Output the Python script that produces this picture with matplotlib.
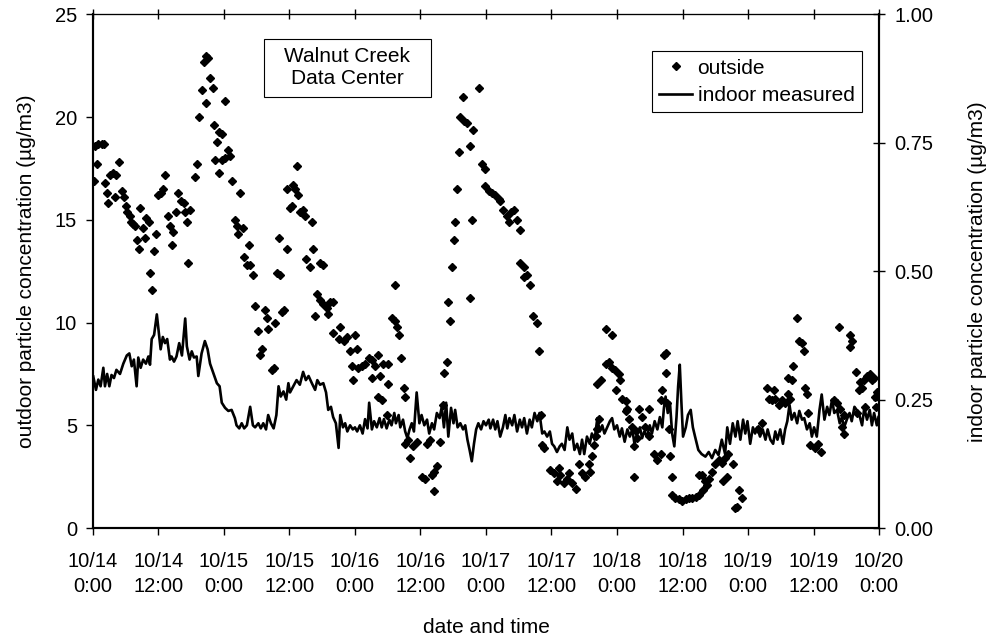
import matplotlib.pyplot as plt
from matplotlib.patches import Rectangle

plt.rcParams['font.family'] = ['Liberation Sans', 'DejaVu Sans']

# hours since 10/14 0:00
outside_hours = [
    0.2, 0.4, 0.7, 1.0, 1.6, 2.0, 2.2, 2.5, 2.8, 3.2, 3.7, 4.0, 4.2, 4.8, 5.3, 5.6, 6.0, 6.3, 6.7, 6.9,
    7.3, 7.7, 8.0, 8.5, 8.7, 9.2, 9.5, 9.8, 10.2, 10.5, 10.8, 11.1, 11.5, 12.0, 12.4, 12.9, 13.2, 13.8,
    14.1, 14.4, 14.7, 15.2, 15.6, 16.1, 16.6, 16.9, 17.3, 17.35, 17.8, 18.7, 19.0, 19.5, 19.9, 20.35,
    20.8, 20.8, 21.15, 21.45, 21.9, 22.1, 22.4, 22.7, 23.0, 23.0, 23.6, 23.6, 24.1, 24.2, 24.8, 25.1,
    25.4, 26.0, 26.3, 26.65, 27.0, 27.4, 27.7, 28.2, 28.5, 28.8, 29.3, 29.7, 30.3, 30.6, 30.9, 31.5,
    31.8, 32.1, 32.8, 33.1, 33.4, 33.7, 34.0, 34.3, 34.6, 35.0, 35.5, 35.5, 36.1,
    36.4, 36.7, 37.0, 37.3, 37.6, 37.9, 38.5, 38.85, 39.0, 39.8, 40.1, 40.4, 40.7, 41.0, 41.6, 41.6,
    42.2, 42.2, 42.8, 43.1, 43.4, 43.9, 44.0, 45.0, 45.3, 45.9, 46.5, 47.1, 47.4, 47.7, 48.0, 48.3,
    48.6, 49.2, 49.8, 50.5, 51.1, 51.1, 51.7, 52.3, 52.3, 52.6, 52.9, 53.2, 53.8, 54.1, 54.1, 54.7,
    55.4, 55.4, 55.7, 56.1, 56.5, 56.9, 57.2, 57.2, 57.8, 58.1, 58.7, 59.3, 60.2, 60.9, 61.2, 61.8,
    62.1, 62.4, 62.4, 63.0, 63.6, 64.2, 64.3, 64.8, 65.1, 65.4, 65.7, 66.05, 66.35, 66.7, 67.0, 67.3,
    67.8, 67.9, 68.5, 69.1, 69.1, 69.4, 69.7, 70.8, 71.2, 71.9, 71.9, 72.5,
    73.1, 73.7, 74.3, 74.6, 75.2, 75.9, 76.2, 76.5, 77.1, 77.7, 78.2, 78.3, 78.9, 78.9, 79.5, 80.1,
    80.7, 81.4, 81.8, 82.0, 82.3, 82.6, 83.8, 84.4, 85.0, 85.3, 85.6, 86.2, 86.9, 87.2, 87.8, 88.4,
    89.0, 89.6, 90.2, 90.8, 91.1, 91.4, 91.7, 92.1, 92.4, 92.4, 92.7, 93.0, 93.9, 93.9, 94.5, 95.1,
    95.1, 95.7, 95.9, 96.3, 96.6, 96.9, 97.6, 97.6, 97.9, 98.2, 98.8, 99.1, 99.2, 99.4, 99.7, 100.0,
    100.6, 101.2, 101.8, 101.8, 102.8, 103.4, 104.0, 104.0, 104.3, 104.6, 104.9, 104.9, 105.2, 105.5,
    105.8, 106.1, 106.1, 106.7, 107.3, 107.9, 108.6, 109.2, 109.8, 110.4, 111.0, 111.0,
    111.5, 111.8, 112.1, 112.5, 112.8, 113.4, 114.0, 114.6, 115.2, 115.5, 115.8, 116.1, 116.4, 117.3,
    117.7, 118.0, 118.3, 118.9, 121.9, 122.5, 123.5, 123.8, 124.4, 124.7, 125.0, 125.6, 126.2, 126.8,
    127.4, 127.4, 127.7, 128.0, 128.3, 129.0, 129.3, 129.9, 130.2, 130.5, 130.8, 130.9, 131.4, 132.3,
    132.9, 133.4, 135.7, 136.3, 136.6, 136.9, 137.2, 137.5, 137.6, 138.7, 138.7, 139.0, 139.7, 140.0,
    140.3, 140.6, 140.9, 141.2, 141.5, 141.8, 142.4, 142.7, 143.0, 143.3, 143.4, 143.6,
]
outside_vals = [
    16.9, 18.6, 17.7, 18.7, 18.7, 18.7, 16.8, 16.3, 15.8, 17.2, 17.3, 16.1, 17.2, 17.8, 16.4, 16.1, 15.7, 15.4, 15.2, 14.9,
    14.8, 14.7, 14.0, 13.6, 15.6, 14.6, 14.1, 15.1, 14.9, 12.4, 11.6, 13.5, 14.3, 16.2, 16.3, 16.5, 17.2, 15.2,
    14.7, 13.8, 14.4, 15.4, 16.3, 15.9, 15.8, 15.4, 14.9, 12.9, 15.5, 17.1, 17.7, 20.0, 21.3, 22.7,
    23.0, 20.7, 22.9, 21.9, 21.4, 19.6, 17.9, 18.8, 19.3, 17.3, 19.2, 17.9, 20.8, 18.0, 18.4, 18.1,
    16.9, 15.0, 14.7, 14.3, 16.3, 14.6, 13.2, 12.8, 13.8, 12.8, 12.3, 10.8, 9.6, 8.4, 8.7, 10.6,
    10.2, 9.7, 7.7, 7.8, 10.0, 12.4, 14.1, 12.3, 10.5, 10.6, 13.6, 16.5, 15.6,
    15.7, 16.7, 16.5, 17.6, 16.2, 15.4, 15.5, 15.2, 13.1, 12.7, 14.9, 13.6, 10.3, 11.4, 12.9, 11.1,
    12.8, 10.9, 10.7, 10.4, 11.0, 11.0, 9.5, 9.2, 9.8, 9.1, 9.3, 8.6, 7.9, 7.2, 9.4, 8.7,
    7.8, 7.9, 8.0, 8.3, 8.2, 7.3, 7.9, 8.4, 6.4, 7.4, 6.25, 8.0, 5.5, 8.0, 7.0, 10.2,
    11.85, 10.1, 9.8, 9.4, 8.3, 6.8, 6.4, 4.1, 4.3, 3.4, 4.0, 4.2, 2.5, 2.4, 4.1, 4.3,
    2.6, 2.75, 1.8, 3.0, 4.2, 6.0, 7.55, 8.1, 11.0, 10.1, 12.7, 14.0, 14.9, 16.5, 18.3, 20.0,
    21.0, 19.8, 19.7, 18.6, 11.2, 15.0, 19.4, 21.4, 17.7, 17.5, 16.65, 16.4,
    16.3, 16.2, 16.0, 15.9, 15.5, 15.2, 14.9, 15.4, 15.5, 15.0, 14.5, 12.9, 12.7, 12.2, 12.3, 11.85,
    10.3, 10.0, 8.6, 5.5, 4.05, 3.9, 2.8, 2.7, 2.3, 2.9, 2.6, 2.2, 2.4, 2.7, 2.2, 1.9,
    3.1, 2.7, 2.5, 3.1, 2.75, 3.5, 4.05, 4.5, 4.8, 7.0, 5.3, 7.2, 8.0, 9.7, 8.1, 7.8,
    9.4, 7.7, 6.7, 7.5, 7.2, 6.3, 6.2, 5.7, 5.8, 5.3, 4.9, 4.0, 2.5, 4.7, 4.4, 5.8,
    5.4, 4.9, 5.8, 4.5, 3.6, 3.3, 6.25, 3.6, 6.7, 8.4, 8.5, 7.55, 6.1, 4.8,
    3.5, 2.5, 1.6, 1.45, 1.4, 1.3, 1.4, 1.45, 1.45, 1.5, 1.6, 2.6,
    2.6, 1.85, 2.3, 2.1, 2.4, 2.75, 3.1, 3.3, 3.15, 2.3, 3.4, 2.5, 3.6, 3.1,
    0.96, 1.04, 1.85, 1.45, 4.8, 5.1, 6.8, 6.3, 6.25, 6.7, 6.3, 6.0, 6.25, 6.1,
    6.5, 7.3, 6.3, 7.2, 7.9, 10.2, 9.1, 9.0, 8.6, 6.8, 6.5, 5.6, 4.05, 3.9,
    4.1, 3.7, 6.25, 6.1, 9.8, 5.8, 4.9, 5.5, 4.6, 9.4, 8.8, 9.1, 7.6, 5.6,
    6.7, 7.1, 6.8, 7.2, 5.9, 7.4, 7.5, 7.2, 7.3, 6.4, 5.9, 6.6,
]

indoor_hours = [
    0.06, 0.55, 0.98, 1.4, 1.9, 2.2, 2.6, 3.0, 3.4, 3.85, 4.3, 4.95, 5.56, 6.2, 6.66, 7.1, 7.5, 8.0,
    8.3, 8.74, 9.2, 9.7, 10.15, 10.45, 10.76, 11.2, 11.7, 12.0, 12.4, 12.8, 13.2, 13.6, 14.1, 14.4,
    14.85, 15.3, 15.8, 16.3, 16.9, 17.2, 17.7, 18.1, 18.5, 19.0, 19.3, 19.9, 20.5, 21.0, 21.45, 22.1,
    22.7, 23.2, 23.6, 24.2, 24.8, 25.4, 26.0, 26.3, 26.8, 27.25, 27.7, 28.2, 28.8, 29.3, 29.7, 30.3,
    30.75, 31.2, 31.7, 32.1, 32.6, 33.1, 33.6, 34.0, 34.4, 34.9, 35.4, 35.8,
    36.1, 36.7, 37.3, 37.9, 38.5, 39.0, 39.5, 40.1, 40.7, 41.1, 41.6, 42.2, 42.7, 43.1, 43.6, 44.0,
    44.5, 45.0, 45.3, 45.8, 46.2, 46.6, 47.1, 47.6, 48.0, 48.4, 48.9, 49.4, 49.85, 50.3, 50.6, 51.1,
    51.5, 52.0, 52.5, 52.9, 53.3, 53.8, 54.3, 54.7, 55.2, 55.5, 56.0, 56.3, 56.8, 57.2, 57.6, 58.0,
    58.4, 58.8, 59.3, 59.8, 60.2, 60.7, 61.2, 61.6, 62.1, 62.5, 63.0, 63.5, 63.9, 64.3, 64.7, 65.1,
    65.6, 66.05, 66.35, 66.8, 67.3, 67.8, 68.2, 68.6, 69.0, 69.4, 69.8, 70.2, 70.6, 71.1, 71.55, 72.0,
    72.5, 72.8, 73.3, 73.7, 74.1, 74.6, 75.1, 75.55, 75.9, 76.3, 76.8, 77.2, 77.7, 78.2, 78.6, 79.0,
    79.5, 80.0, 80.4, 80.9, 81.4, 81.8, 82.3, 82.7, 83.2, 83.7, 84.1, 84.5, 85.0, 85.5, 85.9, 86.4,
    86.9, 87.3, 87.8, 88.2, 88.7, 89.2, 89.6, 90.0, 90.5, 91.0, 91.4, 91.9, 92.4, 92.85, 93.3, 93.7,
    94.2, 94.7, 95.1, 95.5, 96.0, 96.5, 96.9, 97.4, 97.9, 98.35, 98.8, 99.2, 99.7, 100.2, 100.6, 101.0,
    101.5, 102.0, 102.4, 102.9, 103.4, 103.85, 104.3, 104.6, 104.9, 105.3, 105.7, 106.1, 106.5, 106.9,
    107.2, 107.5, 107.8, 108.1, 108.6, 109.0, 109.5, 109.9, 110.3, 110.9, 111.5, 112.2, 112.8, 113.4,
    114.0, 114.6, 115.2, 115.8, 116.2, 116.7, 117.2, 117.7, 118.1, 118.6, 119.1, 119.5, 119.9, 120.4,
    120.9, 121.3, 121.7, 122.2, 122.7, 123.2, 123.6, 124.1, 124.6, 125.0, 125.4, 125.9, 126.4, 126.8,
    127.2, 127.6, 128.0, 128.5, 129.0, 129.4, 129.9, 130.3, 130.8, 131.3, 131.7, 132.1, 132.6, 133.1,
    133.5, 134.0, 134.5, 134.9, 135.4, 135.8, 136.3, 136.8, 137.2, 137.6, 138.1, 138.6, 139.0, 139.5,
    139.9, 140.4, 140.9, 141.3, 141.8, 142.3, 142.7, 143.1, 143.6, 143.9,
]
indoor_vals = [
    0.295, 0.269, 0.289, 0.276, 0.312, 0.276, 0.300, 0.276, 0.298, 0.292, 0.308, 0.300, 0.320, 0.336, 0.340, 0.315, 0.328, 0.276,
    0.332, 0.312, 0.328, 0.320, 0.334, 0.318, 0.368, 0.376, 0.416, 0.386, 0.348, 0.372, 0.360, 0.368, 0.328, 0.334,
    0.324, 0.334, 0.360, 0.336, 0.408, 0.354, 0.328, 0.344, 0.332, 0.334, 0.296, 0.340, 0.364, 0.348, 0.320, 0.300,
    0.282, 0.276, 0.244, 0.234, 0.228, 0.230, 0.214, 0.200, 0.194, 0.204, 0.194, 0.200, 0.236, 0.200, 0.196, 0.204,
    0.194, 0.204, 0.192, 0.220, 0.204, 0.194, 0.220, 0.276, 0.256, 0.266, 0.250, 0.282,
    0.264, 0.276, 0.288, 0.279, 0.304, 0.288, 0.296, 0.282, 0.269, 0.288, 0.279, 0.282, 0.264, 0.230, 0.236, 0.216,
    0.204, 0.156, 0.220, 0.196, 0.204, 0.188, 0.200, 0.192, 0.196, 0.188, 0.200, 0.184, 0.212, 0.194, 0.244, 0.192,
    0.208, 0.196, 0.214, 0.196, 0.212, 0.194, 0.211, 0.200, 0.224, 0.204, 0.220, 0.196, 0.211, 0.188, 0.175, 0.192,
    0.204, 0.188, 0.264, 0.204, 0.220, 0.200, 0.211, 0.184, 0.204, 0.192, 0.224, 0.214, 0.236, 0.196, 0.244, 0.178,
    0.234, 0.204, 0.230, 0.196, 0.204, 0.192, 0.200, 0.172, 0.152, 0.130, 0.164, 0.192, 0.204, 0.192, 0.208, 0.200,
    0.211, 0.194, 0.211, 0.192, 0.208, 0.178, 0.196, 0.220, 0.194, 0.214, 0.200, 0.220, 0.188, 0.211, 0.196, 0.214,
    0.184, 0.211, 0.196, 0.224, 0.208, 0.224, 0.184, 0.188, 0.178, 0.188, 0.164, 0.159, 0.148, 0.159, 0.164, 0.152,
    0.196, 0.172, 0.184, 0.152, 0.164, 0.144, 0.172, 0.144, 0.178, 0.164, 0.184, 0.172, 0.214, 0.188, 0.200, 0.184,
    0.196, 0.208, 0.214, 0.192, 0.200, 0.178, 0.194, 0.168, 0.192, 0.178, 0.192, 0.164, 0.184, 0.196, 0.175, 0.188,
    0.178, 0.200, 0.184, 0.208, 0.192, 0.216, 0.196, 0.234, 0.256, 0.224, 0.244, 0.184, 0.159, 0.216,
    0.276, 0.318, 0.244, 0.178, 0.196, 0.220, 0.230, 0.196, 0.178, 0.152, 0.144, 0.139, 0.148, 0.136,
    0.152, 0.142, 0.172, 0.144, 0.196, 0.164, 0.204, 0.178, 0.208, 0.172, 0.211, 0.184, 0.208, 0.164,
    0.196, 0.184, 0.196, 0.178, 0.192, 0.172, 0.192, 0.172, 0.164, 0.188, 0.172, 0.192, 0.164, 0.192,
    0.208, 0.240, 0.211, 0.224, 0.204, 0.228, 0.211, 0.214, 0.192, 0.204, 0.178, 0.196, 0.178, 0.230,
    0.260, 0.211, 0.236, 0.220, 0.250, 0.224, 0.230, 0.204, 0.216, 0.196, 0.211, 0.224, 0.208, 0.236,
    0.230, 0.220, 0.200, 0.234, 0.211, 0.230, 0.200, 0.224, 0.200, 0.216,
]

xtick_pos = [0, 12, 24, 36, 48, 60, 72, 84, 96, 108, 120, 132, 144]
xtick_labels = ['10/14\n0:00', '10/14\n12:00', '10/15\n0:00', '10/15\n12:00', '10/16\n0:00',
                '10/16\n12:00', '10/17\n0:00', '10/17\n12:00', '10/18\n0:00', '10/18\n12:00',
                '10/19\n0:00', '10/19\n12:00', '10/20\n0:00']
left_ticks = [0, 5, 10, 15, 20, 25]
right_ticks = [0.0, 0.25, 0.5, 0.75, 1.0]

fig = plt.figure(figsize=(9.91, 6.38), dpi=100)
ax = fig.add_axes([0.0938, 0.1724, 0.7932, 0.8049])
ax2 = ax.twinx()

pts, = ax.plot(outside_hours, outside_vals, 'D', ms=4.2, color='black', linestyle='none', label='outside')
ln, = ax2.plot(indoor_hours, indoor_vals, color='black', lw=1.9, label='indoor measured')

ax.set_xlim(0, 144)
ax.set_ylim(0, 25)
ax2.set_ylim(0, 1.0)

ax.set_xticks(xtick_pos)
ax.set_xticklabels(xtick_labels, fontsize=14.5, linespacing=1.4)
ax.set_yticks(left_ticks)
ax.tick_params(axis='x', direction='out', length=5, width=1, pad=12.5)
ax.tick_params(axis='y', direction='out', length=5, width=1, labelsize=14.5, pad=6.5)
ax2.set_yticks(right_ticks)
ax2.set_yticklabels(['%.2f' % t for t in right_ticks])
ax2.tick_params(axis='y', direction='inout', length=8.6, width=1, labelsize=14.5, pad=7)

top = ax.secondary_xaxis('top')
top.set_xticks(xtick_pos)
top.tick_params(direction='inout', length=7, width=1, labeltop=False)
top.spines['top'].set_linewidth(0.8)

for a in (ax, ax2):
    a.spines['left'].set_linewidth(1.5)
    a.spines['bottom'].set_linewidth(1.5)
    a.spines['right'].set_linewidth(1.5)
    a.spines['top'].set_linewidth(0.8)

ax.set_xlabel('date and time', fontsize=15)
ax.xaxis.label.set_va('center')
ax.xaxis.set_label_coords(0.5, -0.193)
ax.set_ylabel('outdoor particle concentration (\u00b5g/m3)', fontsize=15)
ax.yaxis.label.set_va('center')
ax.yaxis.set_label_coords(-0.084, 0.5)
ax2.set_ylabel('indoor particle concentration (\u00b5g/m3)', fontsize=15)
ax2.yaxis.label.set_va('center')
ax2.yaxis.set_label_coords(1.125, 0.5)

ax2.add_patch(Rectangle((0.2176, 0.8385), 0.2125, 0.1128, transform=ax2.transAxes,
                        fill=True, facecolor='white', edgecolor='black', lw=0.8, zorder=5))
ax2.text(0.3238, 0.897, 'Walnut Creek\nData Center', transform=ax2.transAxes, fontsize=15,
         ha='center', va='center', linespacing=1.15, zorder=6)

leg = ax2.legend([pts, ln], ['outside', 'indoor measured'], loc='upper right',
                 bbox_to_anchor=(0.978, 0.928), borderaxespad=0, fontsize=15,
                 fancybox=False, framealpha=1, edgecolor='black', handlelength=1.6,
                 handletextpad=0.25, borderpad=0.35, labelspacing=0.4, numpoints=1)
leg.get_frame().set_linewidth(0.8)

fig.savefig('out.png', dpi=100)
